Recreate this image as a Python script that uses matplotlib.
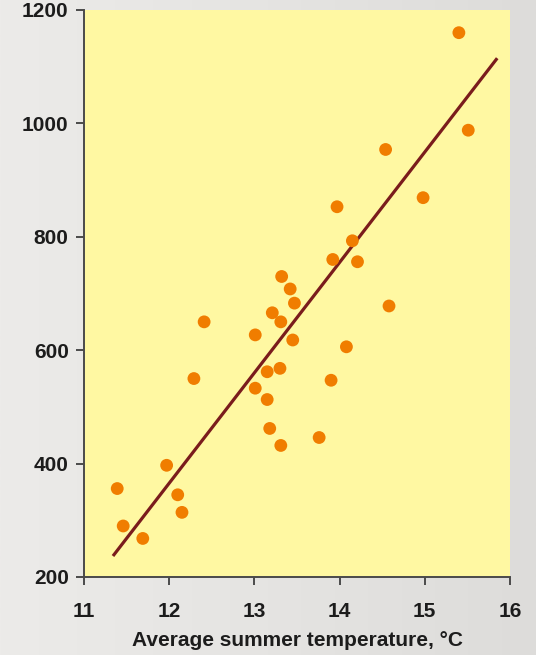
import numpy as np
import matplotlib
matplotlib.use("Agg")
import matplotlib.pyplot as plt
from matplotlib.colors import LinearSegmentedColormap

# Data
temperature = [11.39, 11.46, 11.69, 11.97, 12.10, 12.15, 12.29, 12.41,
               13.01, 13.01, 13.15, 13.15, 13.18, 13.21, 13.30, 13.31,
               13.32, 13.31, 13.42, 13.47, 13.45, 13.76, 13.90, 13.92,
               13.97, 14.08, 14.15, 14.21, 14.54, 14.58, 14.98, 15.40, 15.51]
values = [356, 290, 268, 397, 345, 314, 550, 650,
          627, 533, 562, 513, 462, 666, 568, 650,
          730, 432, 708, 683, 618, 446, 547, 760,
          853, 606, 793, 756, 954, 678, 869, 1160, 988]
fit_x = [11.34, 15.85]
fit_y = [237, 1115]

xticks = [11, 12, 13, 14, 15, 16]
yticks = [200, 400, 600, 800, 1000, 1200]
xlabel = "Average summer temperature, °C"

plt.rcParams['font.family'] = ['Liberation Sans', 'DejaVu Sans']

fig = plt.figure(figsize=(5.36, 6.55), dpi=100)

# background gradient
bg = fig.add_axes([0, 0, 1, 1], zorder=-10)
grad = np.linspace(0, 1, 256)[None, :]
cmap = LinearSegmentedColormap.from_list("bg", ["#ecebe9", "#e5e4e2", "#dddcda"])
bg.imshow(grad, aspect='auto', cmap=cmap, extent=[0, 1, 0, 1])
bg.axis('off')

ax = fig.add_axes([84/536, 78/655, 426/536, 567/655])
ax.set_facecolor("#fff8a2")
ax.set_xlim(11, 16)
ax.set_ylim(200, 1200)

ax.plot(fit_x, fit_y, color="#7a1c1c", lw=2.3, zorder=2, solid_capstyle='butt')
ax.scatter(temperature, values, s=85, color="#f07d00", edgecolors='none', zorder=3)

for s in ['top', 'right']:
    ax.spines[s].set_visible(False)
for s in ['left', 'bottom']:
    ax.spines[s].set_color("#4a4a4a")
    ax.spines[s].set_linewidth(1.4)

ax.set_xticks(xticks)
ax.set_yticks(yticks)
ax.tick_params(axis='both', direction='out', length=6, width=1.4, color="#4a4a4a",
               labelsize=15, labelcolor="#1c1c1c")
ax.tick_params(axis='x', pad=12)
ax.tick_params(axis='y', pad=5)
for lab in ax.get_xticklabels() + ax.get_yticklabels():
    lab.set_fontweight('bold')
ax.set_xlabel(xlabel, fontsize=15, fontweight='bold', color="#1c1c1c", labelpad=7)

fig.savefig("out.png", dpi=100)
